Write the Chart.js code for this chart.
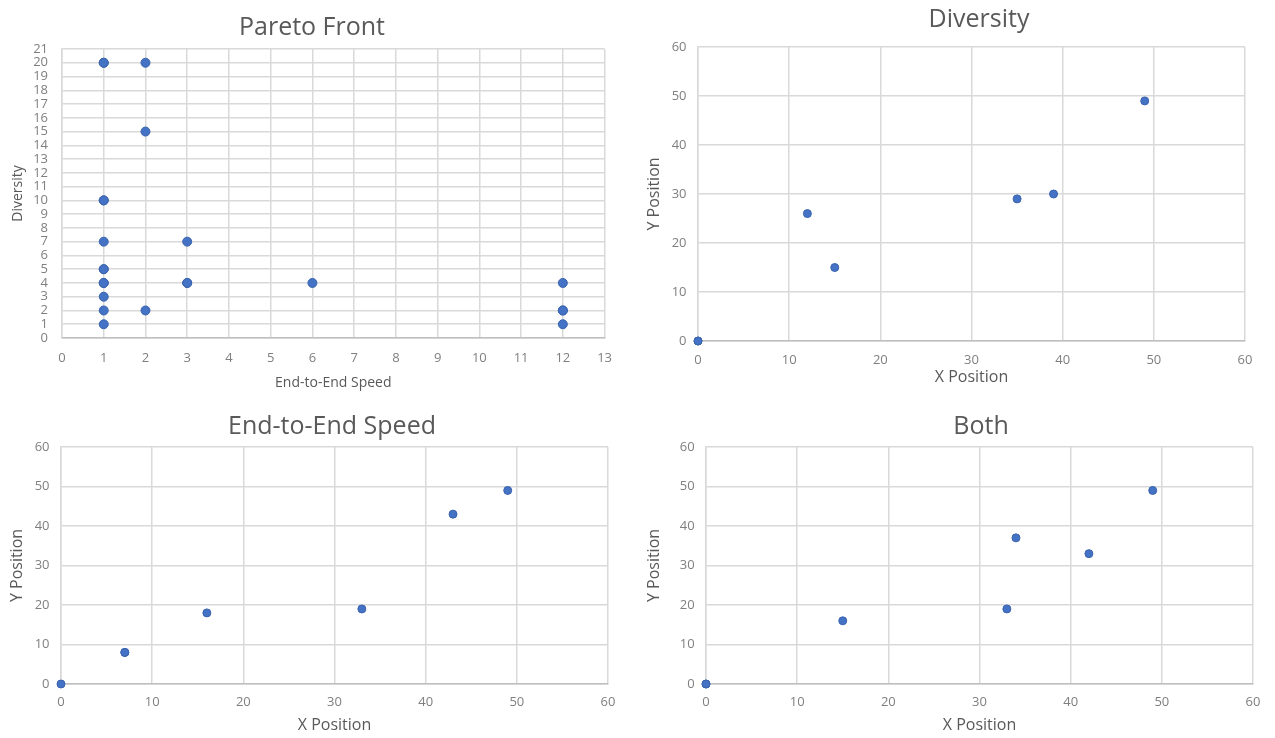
<!DOCTYPE html>
<html>
<head>
<meta charset="utf-8">
<script src="https://cdn.jsdelivr.net/npm/chart.js@4.4.1/dist/chart.umd.min.js"></script>
<style>
  html, body { margin: 0; padding: 0; background: #ffffff; overflow: hidden; width: 1275px; height: 738px; }
  canvas { position: absolute; }
</style>
</head>
<body>
<canvas id="pareto"></canvas>
<canvas id="diversity"></canvas>
<canvas id="speed"></canvas>
<canvas id="both"></canvas>
<script>
// Pareto front: end-to-end speed vs diversity (repeated pairs are separate solutions)
const paretoSpeed     = [1, 1, 2, 2, 1, 1, 1, 3, 1, 1, 1, 1, 3, 3, 6, 12, 1, 1, 2, 12, 12, 1, 12];
const paretoDiversity = [20, 20, 20, 15, 10, 10, 7, 7, 5, 5, 4, 4, 4, 4, 4, 4, 3, 2, 2, 2, 2, 1, 1];

// Positions chosen when optimising for diversity
const diversityX = [0, 0, 12, 15, 35, 39, 49];
const diversityY = [0, 0, 26, 15, 29, 30, 49];

// Positions chosen when optimising for end-to-end speed
const speedX = [0, 7, 7, 16, 33, 43, 49];
const speedY = [0, 8, 8, 18, 19, 43, 49];

// Positions chosen when optimising for both objectives
const bothX = [0, 0, 15, 33, 34, 42, 49];
const bothY = [0, 0, 16, 19, 37, 33, 49];

// Chart titles and axis titles
const chartTitles = ['Pareto Front', 'Diversity', 'End-to-End Speed', 'Both'];
const paretoAxisTitles = ['End-to-End Speed', 'Diversity'];
const positionAxisTitles = ['X Position', 'Y Position'];

const FONT = "'Open Sans', 'Noto Sans', sans-serif";
const TITLE_COLOR = '#595959';
const TICK_COLOR = '#7f7f7f';
const GRID_COLOR = '#d9d9d9';
const AXIS_COLOR = '#bfbfbf';
const MARK_FILL = '#4472c4';
const MARK_EDGE = '#3a63ad';

function toPoints(xs, ys) {
  return xs.map((x, i) => ({ x: x, y: ys[i] }));
}

function drawScatter(id, o) {
  const cv = document.getElementById(id);
  cv.width = o.w; cv.height = o.h;
  cv.style.left = o.left + 'px';
  cv.style.top = o.top + 'px';
  cv.style.width = o.w + 'px';
  cv.style.height = o.h + 'px';

  return new Chart(cv, {
    type: 'scatter',
    data: {
      datasets: [{
        data: toPoints(o.xs, o.ys),
        backgroundColor: MARK_FILL,
        borderColor: MARK_EDGE,
        borderWidth: 1,
        pointRadius: o.radius,
        pointHoverRadius: o.radius,
        clip: false
      }]
    },
    options: {
      responsive: false,
      animation: false,
      events: [],
      devicePixelRatio: 1,
      layout: { padding: 0 },
      plugins: {
        legend: { display: false },
        tooltip: { enabled: false },
        title: {
          display: true,
          text: o.title,
          color: TITLE_COLOR,
          font: { family: FONT, size: 25, weight: 'normal', lineHeight: 1.2 },
          padding: { top: o.titleTop, bottom: o.titleBottom }
        }
      },
      scales: {
        x: {
          type: 'linear',
          position: 'bottom',
          min: 0, max: o.xMax,
          ticks: {
            stepSize: o.xStep, autoSkip: false, maxRotation: 0,
            color: TICK_COLOR, padding: o.xTickPad,
            font: { family: FONT, size: 13, lineHeight: 1.2 }
          },
          grid: { color: GRID_COLOR, lineWidth: 1.5, drawTicks: false },
          border: { display: true, color: AXIS_COLOR, width: 1.5 },
          title: {
            display: true, text: o.xTitle, color: TITLE_COLOR,
            font: { family: FONT, size: o.axisFont, lineHeight: 1.2 },
            padding: { top: 0, bottom: o.xTitlePad }
          },
          afterFit: s => { s.height = o.xHeight; }
        },
        y: {
          type: 'linear',
          position: 'left',
          min: 0, max: o.yMax,
          ticks: {
            stepSize: o.yStep, autoSkip: false,
            color: TICK_COLOR, padding: o.yTickPad,
            font: { family: FONT, size: 13, lineHeight: 1.2 }
          },
          grid: { color: GRID_COLOR, lineWidth: 1.5, drawTicks: false },
          border: { display: true, color: GRID_COLOR, width: 1.5 },
          title: {
            display: true, text: o.yTitle, color: TITLE_COLOR,
            font: { family: FONT, size: o.axisFont, lineHeight: 1.2 },
            padding: { top: o.yTitlePad, bottom: 0 }
          },
          afterFit: s => { s.width = o.yWidth; }
        },
        // empty right-hand band that keeps the plot clear of the title's centre line
        gap: {
          type: 'linear',
          position: 'right',
          display: true,
          ticks: { display: false },
          grid: { display: false, drawTicks: false },
          border: { display: false },
          afterFit: s => { s.width = o.gapWidth; }
        }
      }
    }
  });
}

drawScatter('pareto', {
  left: 0, top: 0, w: 624, h: 395,
  xs: paretoSpeed, ys: paretoDiversity, radius: 4.5,
  xMax: 13, xStep: 1, yMax: 21, yStep: 1,
  title: chartTitles[0], xTitle: paretoAxisTitles[0], yTitle: paretoAxisTitles[1],
  axisFont: 14,
  titleTop: 12.5, titleBottom: 6.5,
  yWidth: 62, yTickPad: 14, yTitlePad: 9.6,
  xHeight: 57, xTickPad: 12, xTitlePad: 4,
  gapWidth: 17
});

drawScatter('diversity', {
  left: 640, top: 0, w: 678, h: 395,
  xs: diversityX, ys: diversityY, radius: 4,
  xMax: 60, xStep: 10, yMax: 60, yStep: 10,
  title: chartTitles[1], xTitle: positionAxisTitles[0], yTitle: positionAxisTitles[1],
  axisFont: 16,
  titleTop: 5, titleBottom: 12,
  yWidth: 58, yTickPad: 11.5, yTitlePad: 4.4,
  xHeight: 54, xTickPad: 11.2, xTitlePad: 8.4,
  gapWidth: 73
});

drawScatter('speed', {
  left: 0, top: 400, w: 664, h: 338,
  xs: speedX, ys: speedY, radius: 4,
  xMax: 60, xStep: 10, yMax: 60, yStep: 10,
  title: chartTitles[2], xTitle: positionAxisTitles[0], yTitle: positionAxisTitles[1],
  axisFont: 16,
  titleTop: 12, titleBottom: 5,
  yWidth: 61, yTickPad: 11.5, yTitlePad: 7.4,
  xHeight: 54, xTickPad: 10.9, xTitlePad: 3.4,
  gapWidth: 56
});

drawScatter('both', {
  left: 640, top: 400, w: 682, h: 338,
  xs: bothX, ys: bothY, radius: 4,
  xMax: 60, xStep: 10, yMax: 60, yStep: 10,
  title: chartTitles[3], xTitle: positionAxisTitles[0], yTitle: positionAxisTitles[1],
  axisFont: 16,
  titleTop: 12, titleBottom: 5,
  yWidth: 66, yTickPad: 11.3, yTitlePad: 4.4,
  xHeight: 54, xTickPad: 10.9, xTitlePad: 3.4,
  gapWidth: 69
});
</script>
</body>
</html>
